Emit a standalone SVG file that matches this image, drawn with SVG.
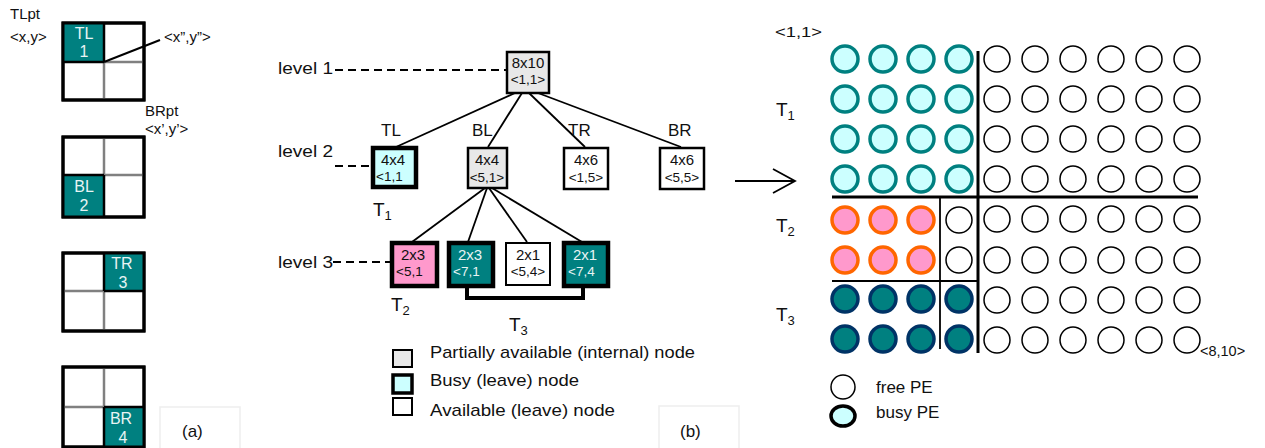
<svg xmlns="http://www.w3.org/2000/svg" width="1265" height="448" viewBox="0 0 1265 448">
<style>
text{font-family:"Liberation Sans",Arial,sans-serif;fill:#111}
.sq{fill:#fff;stroke:#000;stroke-width:3}
.mid{stroke:#808080;stroke-width:2.5}
.teal{fill:#008080}
.tw{fill:#e8f4f4;font-size:16px;text-anchor:middle}
.lbl{font-size:15px}
.lv{font-size:16px}
.tl{font-size:17px}
.nd{stroke:#000;stroke-width:2.5}
.thick{stroke:#000;stroke-width:4.5}
.nt{font-size:15px;text-anchor:middle}
.ns{font-size:13.5px;text-anchor:middle}
.edge{stroke:#000;stroke-width:1.8;fill:none}
.dash{stroke:#000;stroke-width:2;stroke-dasharray:8,5;fill:none}
.T{font-size:19px}
.sub{font-size:13px}
.c1{fill:#ccffff;stroke:#008080;stroke-width:3.5}
.c2{fill:#ff99cc;stroke:#ff6600;stroke-width:3.5}
.c3{fill:#008080;stroke:#003366;stroke-width:3.5}
.cf{fill:#fff;stroke:#000;stroke-width:1.5}
.box{fill:#fff;stroke:#eeeeee;stroke-width:1.5}
.lg{font-size:17px}
.lc{font-size:17px}
</style>

<!-- Part (a) -->
<g id="part-a">
  <text x="10" y="19" class="lbl">TLpt</text>
  <text x="10" y="42" class="lbl">&lt;x,y&gt;</text>
  <g id="a1">
    <rect x="63" y="23" width="81" height="77" class="sq"/>
    <rect x="63" y="23" width="41" height="39" class="teal"/>
    <line x1="104" y1="62" x2="104" y2="99" class="mid"/>
    <line x1="104" y1="62" x2="143" y2="62" class="mid"/>
    <rect x="63" y="23" width="81" height="77" fill="none" stroke="#000" stroke-width="3"/>
    <line x1="104" y1="23" x2="104" y2="62" stroke="#000" stroke-width="2.5"/>
    <line x1="63" y1="62" x2="104" y2="62" stroke="#000" stroke-width="2.5"/>
    <text x="84" y="39" class="tw">TL</text>
    <text x="84" y="57" class="tw">1</text>
  </g>
  <line x1="104" y1="62" x2="160" y2="40" stroke="#000" stroke-width="2"/>
  <text x="164" y="42" class="lbl">&lt;x”,y”&gt;</text>
  <text x="145" y="116" class="lbl">BRpt</text>
  <text x="145" y="134" class="lbl">&lt;x’,y’&gt;</text>

  <g id="a2">
    <rect x="63" y="137" width="81" height="80" class="sq"/>
    <rect x="63" y="175" width="41" height="42" class="teal"/>
    <line x1="104" y1="137" x2="104" y2="175" class="mid"/>
    <line x1="104" y1="175" x2="143" y2="175" class="mid"/>
    <rect x="63" y="137" width="81" height="80" fill="none" stroke="#000" stroke-width="3"/>
    <line x1="104" y1="175" x2="104" y2="217" stroke="#000" stroke-width="2.5"/>
    <line x1="63" y1="175" x2="104" y2="175" stroke="#000" stroke-width="2.5"/>
    <text x="84" y="192" class="tw">BL</text>
    <text x="84" y="211" class="tw">2</text>
  </g>

  <g id="a3">
    <rect x="63" y="253" width="81" height="78" class="sq"/>
    <rect x="104" y="253" width="40" height="38" class="teal"/>
    <line x1="104" y1="291" x2="104" y2="330" class="mid"/>
    <line x1="64" y1="291" x2="104" y2="291" class="mid"/>
    <rect x="63" y="253" width="81" height="78" fill="none" stroke="#000" stroke-width="3"/>
    <line x1="104" y1="253" x2="104" y2="291" stroke="#000" stroke-width="2.5"/>
    <line x1="104" y1="291" x2="144" y2="291" stroke="#000" stroke-width="2.5"/>
    <text x="122" y="269" class="tw">TR</text>
    <text x="123" y="288" class="tw">3</text>
  </g>

  <g id="a4">
    <rect x="63" y="367" width="81" height="80" class="sq"/>
    <rect x="104" y="407" width="40" height="40" class="teal"/>
    <line x1="104" y1="367" x2="104" y2="407" class="mid"/>
    <line x1="64" y1="407" x2="104" y2="407" class="mid"/>
    <rect x="63" y="367" width="81" height="80" fill="none" stroke="#000" stroke-width="3"/>
    <line x1="104" y1="407" x2="104" y2="447" stroke="#000" stroke-width="2.5"/>
    <line x1="104" y1="407" x2="144" y2="407" stroke="#000" stroke-width="2.5"/>
    <text x="121" y="424" class="tw">BR</text>
    <text x="123" y="443" class="tw">4</text>
  </g>

  <rect x="160" y="407" width="80" height="45" class="box"/>
  <text x="182" y="437" font-size="17">(a)</text>
</g>

<!-- Part (b) connectors -->
<g id="connectors">
  <line x1="335" y1="70" x2="506" y2="70" class="dash"/>
  <line x1="335" y1="166" x2="372" y2="166" class="dash"/>
  <line x1="333" y1="262" x2="391" y2="262" class="dash"/>
  <line x1="515" y1="93" x2="396" y2="147" class="edge"/>
  <line x1="522" y1="93" x2="488" y2="147" class="edge"/>
  <line x1="529" y1="93" x2="585" y2="147" class="edge"/>
  <line x1="538" y1="93" x2="681" y2="147" class="edge"/>
  <line x1="485" y1="188" x2="412" y2="242" class="edge"/>
  <line x1="487" y1="188" x2="468" y2="242" class="edge"/>
  <line x1="489" y1="188" x2="527" y2="242" class="edge"/>
  <line x1="492" y1="188" x2="582" y2="242" class="edge"/>
  <polyline points="467,286 467,298 583,298 583,286" fill="none" stroke="#000" stroke-width="4"/>
  <!-- arrow to grid -->
  <line x1="735" y1="181" x2="795" y2="181" stroke="#000" stroke-width="1.8"/>
  <polyline points="773,169 795,181 773,193" fill="none" stroke="#000" stroke-width="1.8"/>
</g>

<!-- Tree labels -->
<g id="tree-labels">
  <text x="278" y="74" class="lv" textLength="55" lengthAdjust="spacingAndGlyphs">level 1</text>
  <text x="278" y="157" class="lv" textLength="55" lengthAdjust="spacingAndGlyphs">level 2</text>
  <text x="278" y="268" class="lv" textLength="55" lengthAdjust="spacingAndGlyphs">level 3</text>
  <text x="381" y="136" class="tl">TL</text>
  <text x="472" y="136" class="tl">BL</text>
  <text x="568" y="136" class="tl">TR</text>
  <text x="668" y="136" class="tl">BR</text>
  <text x="373" y="216" class="T">T<tspan class="sub" dy="4">1</tspan></text>
  <text x="391" y="311" class="T">T<tspan class="sub" dy="4">2</tspan></text>
  <text x="509" y="331" class="T">T<tspan class="sub" dy="4">3</tspan></text>
</g>

<g id="n-root">
  <rect x="507" y="52" width="42" height="41" fill="#e8e8e8" class="nd"/>
  <text x="528" y="68" class="nt">8x10</text>
  <text x="528" y="84" class="ns">&lt;1,1&gt;</text>
</g>
<g id="n-TL">
  <rect x="373" y="148" width="43" height="39" fill="#ccffff" class="thick"/>
  <text x="393" y="165" class="nt">4x4</text>
  <text x="376" y="181" class="ns" style="text-anchor:start">&lt;1,1</text>
</g>
<g id="n-BL">
  <rect x="468" y="148" width="39" height="40" fill="#e8e8e8" class="nd"/>
  <text x="487" y="165" class="nt">4x4</text>
  <text x="487" y="182" class="ns">&lt;5,1&gt;</text>
</g>
<g id="n-TR">
  <rect x="564" y="148" width="44" height="41" fill="#fff" class="nd"/>
  <text x="586" y="165" class="nt">4x6</text>
  <text x="586" y="182" class="ns">&lt;1,5&gt;</text>
</g>
<g id="n-BR">
  <rect x="660" y="148" width="44" height="41" fill="#fff" class="nd"/>
  <text x="682" y="165" class="nt">4x6</text>
  <text x="682" y="182" class="ns">&lt;5,5&gt;</text>
</g>
<g id="n-L3a">
  <rect x="392" y="243" width="45" height="43" fill="#ff99cc" class="thick"/>
  <text x="413" y="260" class="nt">2x3</text>
  <text x="396" y="276" class="ns" style="text-anchor:start">&lt;5,1</text>
</g>
<g id="n-L3b">
  <rect x="449" y="243" width="44" height="43" fill="#008080" class="thick"/>
  <text x="470" y="260" class="nt" style="fill:#e8f4f4">2x3</text>
  <text x="453" y="276" class="ns" style="fill:#e8f4f4;text-anchor:start">&lt;7,1</text>
</g>
<g id="n-L3c">
  <rect x="506" y="243" width="44" height="42" fill="#fff" stroke="#000" stroke-width="2"/>
  <text x="528" y="260" class="nt">2x1</text>
  <text x="528" y="276" class="ns">&lt;5,4&gt;</text>
</g>
<g id="n-L3d">
  <rect x="564" y="243" width="44" height="43" fill="#008080" class="thick"/>
  <text x="585" y="260" class="nt" style="fill:#e8f4f4">2x1</text>
  <text x="568" y="276" class="ns" style="fill:#e8f4f4;text-anchor:start">&lt;7,4</text>
</g>

<g id="legend-b">
  <rect x="393" y="350" width="19" height="17" fill="#e8e8e8" stroke="#000" stroke-width="2"/>
  <text x="430" y="358" class="lg" textLength="265" lengthAdjust="spacingAndGlyphs">Partially available (internal) node</text>
  <rect x="393" y="375" width="19" height="18" fill="#ccffff" stroke="#000" stroke-width="3.5"/>
  <text x="430" y="386" class="lg" textLength="149" lengthAdjust="spacingAndGlyphs">Busy (leave) node</text>
  <rect x="393" y="398" width="19" height="17" fill="#fff" stroke="#000" stroke-width="2"/>
  <text x="430" y="416" class="lg" textLength="185" lengthAdjust="spacingAndGlyphs">Available (leave) node</text>
  <rect x="659" y="406" width="80" height="46" class="box"/>
  <text x="680" y="437" font-size="17">(b)</text>
</g>

<!-- Part (c) grid -->
<g id="grid">
  <text x="775" y="37" class="lbl" textLength="47" lengthAdjust="spacingAndGlyphs">&lt;1,1&gt;</text>
  <text x="776" y="116" class="T">T<tspan class="sub" dy="4">1</tspan></text>
  <text x="776" y="232" class="T">T<tspan class="sub" dy="4">2</tspan></text>
  <text x="776" y="321" class="T">T<tspan class="sub" dy="4">3</tspan></text>
  <text x="1200" y="356" font-size="14.5">&lt;8,10&gt;</text>

  <g id="busy-T1">
    <circle cx="845" cy="59" r="13" class="c1"/><circle cx="883" cy="59" r="13" class="c1"/><circle cx="921" cy="59" r="13" class="c1"/><circle cx="959" cy="59" r="13" class="c1"/>
    <circle cx="845" cy="99" r="13" class="c1"/><circle cx="883" cy="99" r="13" class="c1"/><circle cx="921" cy="99" r="13" class="c1"/><circle cx="959" cy="99" r="13" class="c1"/>
    <circle cx="845" cy="139" r="13" class="c1"/><circle cx="883" cy="139" r="13" class="c1"/><circle cx="921" cy="139" r="13" class="c1"/><circle cx="959" cy="139" r="13" class="c1"/>
    <circle cx="845" cy="179" r="13" class="c1"/><circle cx="883" cy="179" r="13" class="c1"/><circle cx="921" cy="179" r="13" class="c1"/><circle cx="959" cy="179" r="13" class="c1"/>
  </g>
  <g id="busy-T2">
    <circle cx="845" cy="220" r="13" class="c2"/><circle cx="883" cy="220" r="13" class="c2"/><circle cx="921" cy="220" r="13" class="c2"/>
    <circle cx="845" cy="260" r="13" class="c2"/><circle cx="883" cy="260" r="13" class="c2"/><circle cx="921" cy="260" r="13" class="c2"/>
  </g>
  <g id="busy-T3">
    <circle cx="845" cy="299" r="13" class="c3"/><circle cx="883" cy="299" r="13" class="c3"/><circle cx="921" cy="299" r="13" class="c3"/><circle cx="959" cy="299" r="13" class="c3"/>
    <circle cx="845" cy="339" r="13" class="c3"/><circle cx="883" cy="339" r="13" class="c3"/><circle cx="921" cy="339" r="13" class="c3"/><circle cx="959" cy="339" r="13" class="c3"/>
  </g>
  <g id="free-PEs">
    <circle cx="959" cy="220" r="13" class="cf"/><circle cx="959" cy="260" r="13" class="cf"/>
    <g id="free-r1"><circle cx="997" cy="59" r="13" class="cf"/><circle cx="1035" cy="59" r="13" class="cf"/><circle cx="1073" cy="59" r="13" class="cf"/><circle cx="1111" cy="59" r="13" class="cf"/><circle cx="1149" cy="59" r="13" class="cf"/><circle cx="1187" cy="59" r="13" class="cf"/></g>
    <g id="free-r2"><circle cx="997" cy="99" r="13" class="cf"/><circle cx="1035" cy="99" r="13" class="cf"/><circle cx="1073" cy="99" r="13" class="cf"/><circle cx="1111" cy="99" r="13" class="cf"/><circle cx="1149" cy="99" r="13" class="cf"/><circle cx="1187" cy="99" r="13" class="cf"/></g>
    <g id="free-r3"><circle cx="997" cy="139" r="13" class="cf"/><circle cx="1035" cy="139" r="13" class="cf"/><circle cx="1073" cy="139" r="13" class="cf"/><circle cx="1111" cy="139" r="13" class="cf"/><circle cx="1149" cy="139" r="13" class="cf"/><circle cx="1187" cy="139" r="13" class="cf"/></g>
    <g id="free-r4"><circle cx="997" cy="179" r="13" class="cf"/><circle cx="1035" cy="179" r="13" class="cf"/><circle cx="1073" cy="179" r="13" class="cf"/><circle cx="1111" cy="179" r="13" class="cf"/><circle cx="1149" cy="179" r="13" class="cf"/><circle cx="1187" cy="179" r="13" class="cf"/></g>
    <g id="free-r5"><circle cx="997" cy="219" r="13" class="cf"/><circle cx="1035" cy="219" r="13" class="cf"/><circle cx="1073" cy="219" r="13" class="cf"/><circle cx="1111" cy="219" r="13" class="cf"/><circle cx="1149" cy="219" r="13" class="cf"/><circle cx="1187" cy="219" r="13" class="cf"/></g>
    <g id="free-r6"><circle cx="997" cy="260" r="13" class="cf"/><circle cx="1035" cy="260" r="13" class="cf"/><circle cx="1073" cy="260" r="13" class="cf"/><circle cx="1111" cy="260" r="13" class="cf"/><circle cx="1149" cy="260" r="13" class="cf"/><circle cx="1187" cy="260" r="13" class="cf"/></g>
    <g id="free-r7"><circle cx="997" cy="300" r="13" class="cf"/><circle cx="1035" cy="300" r="13" class="cf"/><circle cx="1073" cy="300" r="13" class="cf"/><circle cx="1111" cy="300" r="13" class="cf"/><circle cx="1149" cy="300" r="13" class="cf"/><circle cx="1187" cy="300" r="13" class="cf"/></g>
    <g id="free-r8"><circle cx="997" cy="340" r="13" class="cf"/><circle cx="1035" cy="340" r="13" class="cf"/><circle cx="1073" cy="340" r="13" class="cf"/><circle cx="1111" cy="340" r="13" class="cf"/><circle cx="1149" cy="340" r="13" class="cf"/><circle cx="1187" cy="340" r="13" class="cf"/></g>
  </g>
  <g id="partition-lines">
    <line x1="832" y1="197" x2="1198" y2="197" stroke="#000" stroke-width="3"/>
    <line x1="978" y1="51" x2="978" y2="353" stroke="#000" stroke-width="3"/>
    <line x1="940" y1="197" x2="940" y2="349" stroke="#000" stroke-width="1.8"/>
    <line x1="832" y1="281" x2="978" y2="281" stroke="#000" stroke-width="1.8"/>
  </g>
  <g id="legend-c">
    <circle cx="843" cy="387" r="12" class="cf"/>
    <text x="876" y="393" class="lc">free PE</text>
    <ellipse cx="843" cy="416" rx="12" ry="10" fill="#ccffff" stroke="#000" stroke-width="3.5"/>
    <text x="876" y="418" class="lc">busy PE</text>
  </g>
</g>
</svg>
